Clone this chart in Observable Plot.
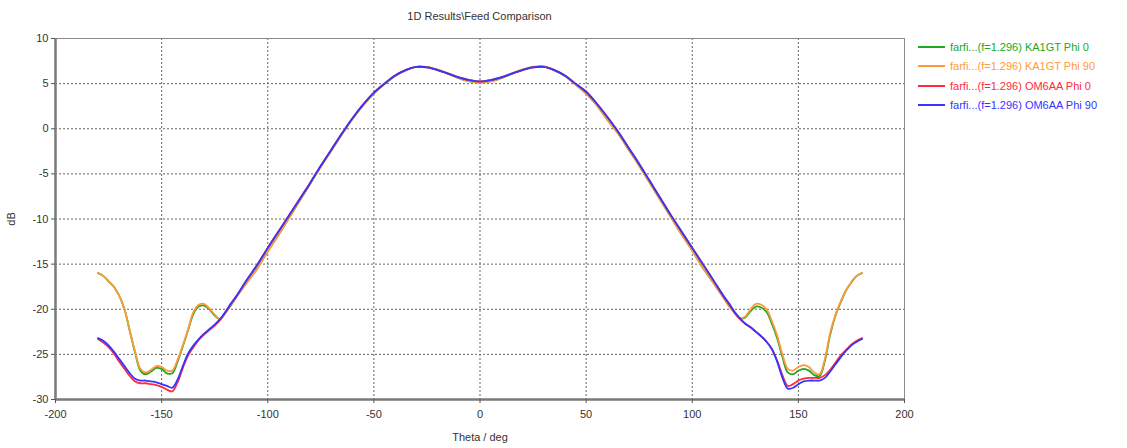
<!DOCTYPE html>
<html><head><meta charset="utf-8">
<script src="https://cdn.jsdelivr.net/npm/d3@7"></script>
<script src="https://cdn.jsdelivr.net/npm/@observablehq/plot@0.6"></script>
<style>
body{margin:0;background:#fff;font-family:"Liberation Sans",Arial,sans-serif;}
#wrap{position:relative;width:1127px;height:448px;overflow:hidden;}
#title{position:absolute;left:0;width:959px;top:10px;text-align:center;font-size:11px;color:#333;}
#legend{position:absolute;left:918px;top:37px;font-size:11px;}
.item{display:flex;align-items:center;height:19.5px;white-space:nowrap;}
.sw{width:27px;height:2px;margin-right:5px;}
</style></head><body>
<div id="wrap"><div id="chart"></div><div id="title">1D Results\Feed Comparison</div><div id="legend"></div></div>
<script>
const seriesNames = ["farfi...(f=1.296) KA1GT Phi 0","farfi...(f=1.296) KA1GT Phi 90","farfi...(f=1.296) OM6AA Phi 0","farfi...(f=1.296) OM6AA Phi 90"];
const seriesColors = ["#22a822","#ff9a3c","#ff2a3c","#3535ff"];
const xTicks = [-200,-150,-100,-50,0,50,100,150,200];
const yTicks = [-30,-25,-20,-15,-10,-5,0,5,10];

const thetaLeft = [-180,-177.5,-175,-172.5,-170,-167.5,-165,-162.5,-160,-157.5,-155,-152.5,-150,-147.5,-145,-142.5,-140,-137.5,-135,-132.5,-130,-127.5,-125,-122.5,-120,-117.5,-115];
const thetaMain = [-110,-105,-100,-95,-90,-85,-80,-75,-70,-65,-60,-55,-50,-45,-40,-35,-30,-25,-20,-15,-10,-5,0,5,10,15,20,25,30,35,40,45,50,55,60,65,70,75,80,85,90,95,100,105,110];
const thetaRight = [115,117.5,120,122.5,125,127.5,130,132.5,135,137.5,140,142.5,145,147.5,150,152.5,155,157.5,160,162.5,165,167.5,170,172.5,175,177.5,180];

// KA1GT main lobe (both Phi cuts)
const ka1gtMain = [-17.1,-15.5,-13.6,-11.8,-9.9,-8.0,-6.1,-4.2,-2.4,-0.6,1.1,2.6,3.9,4.95,5.85,6.5,6.85,6.85,6.55,6.1,5.6,5.25,5.1,5.25,5.6,6.1,6.55,6.85,6.9,6.5,5.85,4.9,3.9,2.6,1.0,-0.5,-2.3,-4.1,-6.0,-7.9,-9.8,-11.7,-13.5,-15.4,-17.1];
// OM6AA main lobe (both Phi cuts)
const om6aaMain = [-16.8,-15.1,-13.2,-11.4,-9.6,-7.8,-6.0,-4.1,-2.3,-0.5,1.2,2.7,4.0,5.0,5.9,6.5,6.85,6.8,6.5,6.1,5.7,5.4,5.25,5.4,5.7,6.1,6.5,6.8,6.85,6.5,5.9,5.0,4.1,2.8,1.3,-0.3,-2.1,-3.9,-5.8,-7.7,-9.6,-11.4,-13.2,-15.0,-16.8];

const ka1gtPhi0Left = [-16.0,-16.3,-16.9,-17.5,-18.5,-20.0,-22.4,-24.8,-26.8,-27.2,-26.9,-26.5,-26.6,-27.1,-27.1,-25.8,-24.1,-22.3,-20.5,-19.7,-19.6,-20.0,-20.7,-21.1,-20.4,-19.6,-18.7];
const ka1gtPhi0Right = [-18.8,-19.7,-20.4,-21.0,-20.9,-20.2,-19.7,-19.8,-20.3,-21.6,-23.2,-25.3,-27.0,-27.2,-26.8,-26.6,-26.8,-27.3,-27.4,-25.7,-22.8,-20.7,-19.2,-17.9,-17.0,-16.3,-16.0];
const ka1gtPhi90Left = [-16.0,-16.3,-16.9,-17.5,-18.5,-20.0,-22.4,-24.7,-26.6,-27.0,-26.7,-26.3,-26.4,-26.8,-26.8,-25.6,-24.0,-22.2,-20.3,-19.5,-19.4,-19.9,-20.6,-21.1,-20.4,-19.5,-18.7];
const ka1gtPhi90Right = [-18.8,-19.7,-20.4,-21.0,-20.8,-20.0,-19.4,-19.5,-20.0,-21.3,-22.9,-25.0,-26.6,-26.8,-26.4,-26.2,-26.4,-27.0,-27.2,-25.5,-22.6,-20.6,-19.1,-17.9,-17.0,-16.3,-16.0];
const om6aaPhi0Left = [-23.3,-23.7,-24.2,-24.9,-25.8,-26.6,-27.4,-28.0,-28.2,-28.2,-28.3,-28.4,-28.6,-28.9,-29.1,-28.1,-26.5,-25.1,-24.2,-23.4,-22.8,-22.3,-21.8,-21.2,-20.4,-19.5,-18.7];
const om6aaPhi0Right = [-18.7,-19.5,-20.4,-21.1,-21.6,-22.0,-22.5,-23.0,-23.6,-24.4,-25.7,-27.3,-28.5,-28.3,-27.9,-27.7,-27.6,-27.6,-27.6,-27.3,-26.7,-25.9,-25.1,-24.5,-23.9,-23.5,-23.2];
const om6aaPhi90Left = [-23.2,-23.5,-24.0,-24.7,-25.5,-26.3,-27.1,-27.7,-27.9,-27.9,-28.0,-28.1,-28.3,-28.5,-28.7,-27.8,-26.3,-24.9,-24.0,-23.3,-22.7,-22.2,-21.7,-21.1,-20.3,-19.4,-18.6];
const om6aaPhi90Right = [-18.6,-19.4,-20.3,-21.0,-21.6,-22.0,-22.5,-23.0,-23.6,-24.4,-25.8,-27.6,-28.8,-28.7,-28.3,-28.0,-27.9,-27.9,-27.9,-27.6,-26.9,-26.1,-25.3,-24.6,-24.0,-23.6,-23.3];

const theta = [...thetaLeft, ...thetaMain, ...thetaRight];
const seriesValues = [
  [...ka1gtPhi0Left, ...ka1gtMain, ...ka1gtPhi0Right],
  [...ka1gtPhi90Left, ...ka1gtMain, ...ka1gtPhi90Right],
  [...om6aaPhi0Left, ...om6aaMain, ...om6aaPhi0Right],
  [...om6aaPhi90Left, ...om6aaMain, ...om6aaPhi90Right]
];
const rows = [];
seriesNames.forEach((s, i) => theta.forEach((t, j) => rows.push({series: s, theta: t, db: seriesValues[i][j]})));

const fmt = d => String(d);
const chart = Plot.plot({
  width: 1127, height: 448,
  marginLeft: 55, marginRight: 223, marginTop: 38, marginBottom: 49,
  style: {fontFamily: "Liberation Sans, Arial, sans-serif", fontSize: "11px", color: "#333", background: "#fff"},
  x: {domain: [-200, 200]},
  y: {domain: [-30, 10]},
  color: {domain: seriesNames, range: seriesColors},
  marks: [
    Plot.gridX(xTicks.slice(1, -1), {stroke: "#666", strokeOpacity: 1, strokeDasharray: "2,2"}),
    Plot.gridY(yTicks.slice(1, -1), {stroke: "#666", strokeOpacity: 1, strokeDasharray: "2,2"}),
    Plot.frame({stroke: "#8a8a8a"}),
    Plot.ruleX([-200], {stroke: "#7a7a7a", strokeWidth: 2.5}),
    Plot.ruleY([-30], {stroke: "#7a7a7a", strokeWidth: 2.5}),
    Plot.axisX(xTicks, {tickSize: 4, tickPadding: 7, stroke: "#555", tickFormat: fmt, label: "Theta / deg", labelAnchor: "center", labelArrow: "none", labelOffset: 41}),
    Plot.axisY(yTicks, {tickSize: 4, tickPadding: 3, stroke: "#555", tickFormat: fmt, label: "dB", labelAnchor: "center", labelArrow: "none", labelOffset: 48}),
    Plot.line(rows, {x: "theta", y: "db", z: "series", stroke: "series", curve: "catmull-rom", strokeWidth: 1.8})
  ]
});
document.getElementById("chart").appendChild(chart);

const legend = document.getElementById("legend");
seriesNames.forEach((s, i) => {
  const it = document.createElement("div");
  it.className = "item";
  it.innerHTML = `<span class="sw" style="background:${seriesColors[i]}"></span><span style="color:${seriesColors[i]}">${s}</span>`;
  legend.appendChild(it);
});
</script>
</body></html>
